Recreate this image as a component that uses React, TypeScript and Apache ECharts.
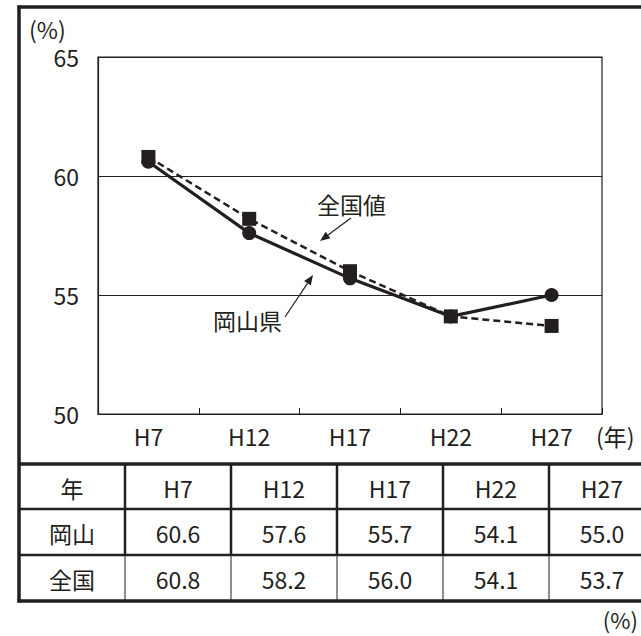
import React, { useEffect, useRef } from "react";
import * as echarts from "echarts";

const years = ["H7", "H12", "H17", "H22", "H27"];
const okayama = [60.6, 57.6, 55.7, 54.1, 55.0];
const national = [60.8, 58.2, 56.0, 54.1, 53.7];
const yTicks = [50, 55, 60, 65];

const INK = "#231f20";
const FONT = '"Noto Sans CJK JP", "Noto Sans", sans-serif';
const FS = 23;

function arrow(tail: number[], tip: number[]) {
  const dx = tip[0] - tail[0];
  const dy = tip[1] - tail[1];
  const len = Math.sqrt(dx * dx + dy * dy);
  const ux = dx / len;
  const uy = dy / len;
  const hl = 10;
  const hw = 4;
  const bx = tip[0] - hl * ux;
  const by = tip[1] - hl * uy;
  const px = -uy;
  const py = ux;
  return [
    {
      type: "line",
      shape: { x1: tail[0], y1: tail[1], x2: bx, y2: by },
      style: { stroke: INK, lineWidth: 1.2 },
    },
    {
      type: "polygon",
      shape: {
        points: [
          [tip[0], tip[1]],
          [bx + hw * px, by + hw * py],
          [bx - hw * px, by - hw * py],
        ],
      },
      style: { fill: INK },
    },
  ];
}

function text(t: string, x: number, y: number, align = "center", fs = FS) {
  return {
    type: "text",
    x,
    y,
    style: {
      text: t,
      fill: INK,
      fontSize: fs,
      fontFamily: FONT,
      align,
      verticalAlign: "middle",
    },
  };
}

function hline(x1: number, x2: number, y: number, w: number) {
  return { type: "line", shape: { x1, y1: y, x2, y2: y }, style: { stroke: INK, lineWidth: w } };
}
function vline(x: number, y1: number, y2: number, w: number) {
  return { type: "line", shape: { x1: x, y1, x2: x, y2 }, style: { stroke: INK, lineWidth: w } };
}

export default function App() {
  const ref = useRef<HTMLDivElement>(null);
  useEffect(() => {
    if (!ref.current) return;
    const chart = echarts.init(ref.current, null, { renderer: "svg" });

    // table
    const colX0 = 19;
    const colW = 106;
    const rowY = [464, 509, 555, 601];
    const rows = [
      ["年", ...years],
      ["岡山", ...okayama.map((v) => v.toFixed(1))],
      ["全国", ...national.map((v) => v.toFixed(1))],
    ];
    const tableEls: any[] = [];
    rows.forEach((r, ri) => {
      r.forEach((c, ci) => {
        tableEls.push(text(c, colX0 + colW * ci + colW / 2, (rowY[ri] + rowY[ri + 1]) / 2 + 1));
      });
    });
    for (let ci = 1; ci <= 5; ci++) {
      const x = colX0 + colW * ci;
      tableEls.push(vline(x, rowY[0], rowY[2], 2.5));
      tableEls.push(vline(x, rowY[2], rowY[3], 1));
    }
    tableEls.push(hline(colX0, 641, rowY[1], 2.5));
    tableEls.push(hline(colX0, 641, rowY[2], 2.5));
    tableEls.push(hline(colX0, 641, rowY[0], 3.5));
    tableEls.push(hline(colX0 - 1.5, 641, rowY[3], 3.5));
    // outer frame
    tableEls.push(vline(colX0, 5.5, rowY[3] + 1.5, 3.5));
    tableEls.push(hline(colX0 - 1.5, 641, 7, 3.5));

    chart.setOption({
      animation: false,
      backgroundColor: "#ffffff",
      grid: {
        left: 98,
        top: 57,
        width: 504,
        height: 357,
        show: true,
        borderColor: INK,
        borderWidth: 1.2,
      },
      xAxis: {
        type: "category",
        data: years,
        boundaryGap: true,
        axisLine: { show: true, lineStyle: { color: INK, width: 1.2 } },
        axisTick: { show: true, inside: true, length: 6, lineStyle: { color: INK, width: 1 } },
        axisLabel: { color: INK, fontSize: FS, fontFamily: FONT, margin: 10 },
        splitLine: { show: false },
      },
      yAxis: {
        type: "value",
        min: yTicks[0],
        max: yTicks[yTicks.length - 1],
        interval: 5,
        axisLine: { show: true, lineStyle: { color: INK, width: 1.2 } },
        axisTick: { show: false },
        axisLabel: { color: INK, fontSize: FS, fontFamily: FONT, margin: 19 },
        splitLine: { show: true, lineStyle: { color: INK, width: 1 } },
      },
      series: [
        {
          name: "全国",
          type: "line",
          data: national,
          symbol: "rect",
          symbolSize: 14,
          lineStyle: { color: INK, width: 2.5, type: [7, 4] },
          itemStyle: { color: INK },
          z: 3,
        },
        {
          name: "岡山",
          type: "line",
          data: okayama,
          symbol: "circle",
          symbolSize: 14,
          lineStyle: { color: INK, width: 3.2, type: "solid" },
          itemStyle: { color: INK },
          z: 2,
        },
      ],
      graphic: [
        text("(%)", 29, 29, "left"),
        text("(年)", 596, 436, "left"),
        text("(%)", 638, 619, "right", 22),
        text("全国値", 317, 204, "left"),
        text("岡山県", 213, 320, "left"),
        ...arrow([351, 218], [320, 241]),
        ...arrow([285, 317], [313, 275]),
        ...tableEls,
      ],
    });
    return () => chart.dispose();
  }, []);
  return (
    <div
      ref={ref}
      style={{ position: "absolute", left: 0, top: 0, width: 641, height: 636 }}
    />
  );
}
